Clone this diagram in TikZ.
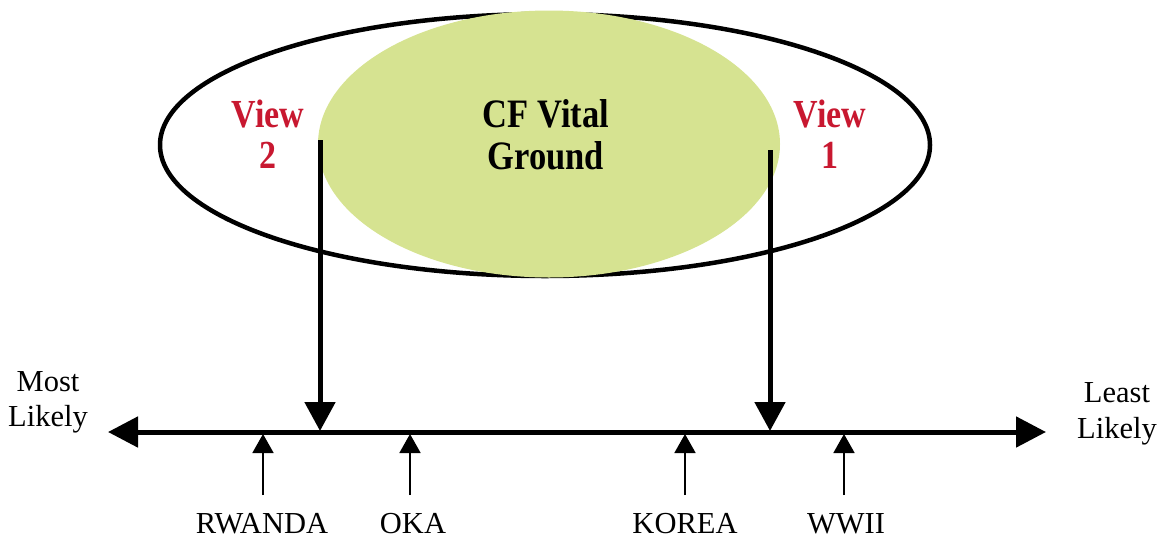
\documentclass[tikz,border=0pt]{standalone}
\usepackage{fontspec}
\setmainfont{Liberation Serif}
\usetikzlibrary{arrows.meta,shapes.geometric}
\definecolor{vitalgreen}{RGB}{214,227,145}
\definecolor{viewred}{RGB}{200,24,48}
% bold captions are set slightly tall and narrow
\newcommand{\tallbold}[1]{\scalebox{1}[1.17]{#1}}
\tikzset{
  lbl/.style={inner sep=0pt, anchor=base, font=\fontsize{30.5}{30.5}\selectfont},
  viewlbl/.style={inner sep=0pt, anchor=base, text=viewred, font=\bfseries\fontsize{34}{34}\selectfont},
  corelbl/.style={inner sep=0pt, anchor=base, font=\bfseries\fontsize{34.5}{34.5}\selectfont},
  axis/.style={line width=5pt, {Triangle[length=30pt,width=30pt]}-{Triangle[length=30pt,width=30pt]}},
  drop/.style={line width=5pt, -{Triangle[length=29pt,width=30pt]}},
  rise/.style={line width=1.8pt, -{Triangle[length=19pt,width=21pt]}}
}
\begin{document}
\begin{tikzpicture}[x=1pt,y=-1pt]
\useasboundingbox (0,0) rectangle (1159,539);

% outer ellipse and the vital ground core drawn over it
\node[ellipse, draw, line width=4.5pt, minimum width=770pt, minimum height=262pt, inner sep=0pt] (outer) at (545,145) {};
\node[ellipse, fill=vitalgreen, minimum width=462pt, minimum height=267pt, inner sep=0pt] (core) at (549,144) {};

% texts inside the ellipse
\node[corelbl] (cf) at (546,127) {\tallbold{CF Vital}};
\node[corelbl] (ground) at (546,169) {\tallbold{Ground}};
\node[viewlbl] (view2) at (268,127) {\tallbold{View}};
\node[viewlbl] (num2) at (268,168) {\tallbold{2}};
\node[viewlbl] (view1) at (830,127) {\tallbold{View}};
\node[viewlbl] (num1) at (830,168) {\tallbold{1}};

% likelihood axis
\coordinate (axL) at (108,432);
\coordinate (axR) at (1046,432);
\draw[axis] (axL) -- (axR);
\node[lbl] (most) at (48,391) {Most};
\node[lbl] (mostl) at (48,426) {Likely};
\node[lbl] (least) at (1117,402) {Least};
\node[lbl] (leastl) at (1117,438) {Likely};

% views dropped onto the axis
\coordinate (v2top) at (320,140);
\coordinate (v2pt) at (320,431);
\coordinate (v1top) at (770,150);
\coordinate (v1pt) at (770,431);
\draw[drop] (v2top) -- (v2pt);
\draw[drop] (v1top) -- (v1pt);

% historical cases
\node[lbl] (rwanda) at (262,533) {RWANDA};
\node[lbl] (oka) at (413,533) {OKA};
\node[lbl] (korea) at (685,533) {KOREA};
\node[lbl] (wwii) at (846,533) {WWII};
\coordinate (rwB) at (263,495); \coordinate (rwT) at (263,434);
\coordinate (okB) at (410,495); \coordinate (okT) at (410,434);
\coordinate (koB) at (685,495); \coordinate (koT) at (685,434);
\coordinate (wwB) at (844,495); \coordinate (wwT) at (844,434);
\draw[rise] (rwB) -- (rwT);
\draw[rise] (okB) -- (okT);
\draw[rise] (koB) -- (koT);
\draw[rise] (wwB) -- (wwT);
\end{tikzpicture}
\end{document}
